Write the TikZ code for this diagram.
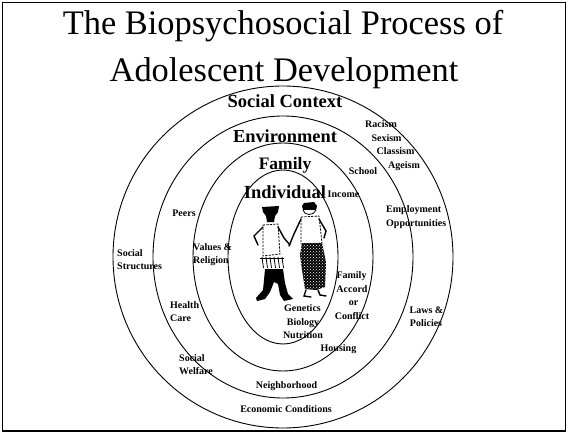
\documentclass[tikz,border=0pt]{standalone}
\usepackage{fontspec}
\setmainfont{Liberation Serif}
\usetikzlibrary{patterns}
\begin{document}
\begin{tikzpicture}[x=1pt,y=-1pt,
  ring/.style={line width=0.9pt},
  ttl/.style={inner sep=0,anchor=base,font=\fontsize{34.4}{40}\selectfont},
  ringlab/.style={inner sep=0,anchor=base,font=\bfseries\fontsize{#1}{#1}\selectfont},
  lab/.style={inner sep=0,anchor=base,font=\bfseries\fontsize{10}{12}\selectfont},
  labw/.style={lab,anchor=base west},
  outline/.style={line width=0.8pt,dash pattern=on 2.2pt off 1.2pt},
  limb/.style={line width=1.4pt,line cap=round}]
\useasboundingbox (0,0) rectangle (568,433);
\fill[white] (0,0) rectangle (568,433);
\draw[line width=1.6pt] (2.5,2.5) rectangle (565.5,431);

% title
\node[ttl] (t1) at (283,34.5) {The Biopsychosocial Process of};
\node[ttl] (t2) at (284,82) {Adolescent Development};

% nested spheres of influence
\coordinate (c) at (283,257);
\draw[ring] (c) ellipse [x radius=170, y radius=171];
\draw[ring] (c) ellipse [x radius=130, y radius=141];
\draw[ring] (c) ellipse [x radius=90, y radius=114];
\draw[ring] (c) ellipse [x radius=55, y radius=87];

% ring titles
\node[ringlab=18.5] (social) at (285,108) {Social Context};
\node[ringlab=18.4] (env) at (285,143) {Environment};
\node[ringlab=17.5] (fam) at (285,170) {Family};
\node[ringlab=18.5] (ind) at (285,199) {Individual};

% social context factors
\node[lab] (racism) at (381,128) {Racism};
\node[lab] (sexism) at (386.5,142) {Sexism};
\node[lab] (classism) at (395.5,155) {Classism};
\node[lab] (ageism) at (404,169) {Ageism};
\node[labw] (emp1) at (386,212) {Employment};
\node[labw] (emp2) at (386,226) {Opportunities};
\node[labw] (ss1) at (117,256) {Social};
\node[labw] (ss2) at (117,269) {Structures};
\node[lab] (laws1) at (426.5,313) {Laws \&};
\node[lab] (laws2) at (426,326) {Policies};
\node[lab] (econ) at (286,412) {Economic Conditions};

% environment factors
\node[lab] (school) at (363,175) {School};
\node[lab] (peers) at (184,217) {Peers};
\node[labw] (hc1) at (170,308) {Health};
\node[labw] (hc2) at (170,321) {Care};
\node[labw] (sw1) at (179,361) {Social};
\node[labw] (sw2) at (179,374) {Welfare};
\node[lab] (neigh) at (286.5,388) {Neighborhood};

% family factors
\node[lab] (income) at (343.5,197) {Income};
\node[labw] (vr1) at (193,250) {Values \&};
\node[labw] (vr2) at (193,263) {Religion};
\node[lab] (fa1) at (351.5,278) {Family};
\node[lab] (fa2) at (352,292) {Accord};
\node[lab] (fa3) at (353.5,305) {or};
\node[lab] (fa4) at (352,319) {Conflict};
\node[lab] (housing) at (338.5,351) {Housing};

% individual factors
\node[lab] (gen1) at (302.5,311) {Genetics};
\node[lab] (gen2) at (303,325) {Biology};
\node[lab] (gen3) at (303,338) {Nutrition};

% young man walking
\fill (262,207) -- (279,206) -- (278,212) -- (275,216) -- (274,222) -- (267,222)
  -- (266,216) -- (263,212) -- cycle;
\draw[outline] (263,225) -- (278,224) -- (280,254) -- (263,256) -- cycle;
\draw[limb] (263,227) -- (254,236) -- (258,245);
\draw[limb] (278,227) -- (284,238) -- (290,245);
\foreach \xx in {262,266,270,274,278,282}
  \draw[line width=0.8pt] (\xx,257) -- (\xx+1.5,268);
\draw[line width=0.8pt] (260,258) -- (284,258);
\fill (265,269) -- (283,269) -- (285,283) -- (288,294) -- (293,299) -- (284,301)
  -- (280,295) -- (278,284) -- (274,282) -- (270,292) -- (265,299) -- (257,301)
  -- (256,298) -- (263,290) -- (264,280) -- cycle;

% young woman holding hands
\fill (304,203) -- (314,202) -- (317,206) -- (316,210) -- (303,210) -- (302,206) -- cycle;
\draw[line width=0.8pt] (303,210) .. controls (304,216) and (314,216) .. (316,210);
\draw[outline] (301,217) -- (319,216) -- (322,243) -- (301,244) -- cycle;
\draw[limb] (301,219) -- (294,234) -- (289,246);
\draw[limb] (319,219) -- (326,231) -- (324,238);
\fill (302,243) -- (322,243) -- (326,262) -- (325,287) -- (316,290) -- (305,289)
  -- (302,270) -- (300,255) -- cycle;
\fill[pattern=crosshatch dots, pattern color=white] (302,243) -- (322,243) -- (326,262)
  -- (325,287) -- (316,290) -- (305,289) -- (302,270) -- (300,255) -- cycle;
\draw[limb] (306,290) -- (304,296) -- (311,297);
\draw[limb] (318,290) -- (320,295) -- (326,296);
\end{tikzpicture}
\end{document}
